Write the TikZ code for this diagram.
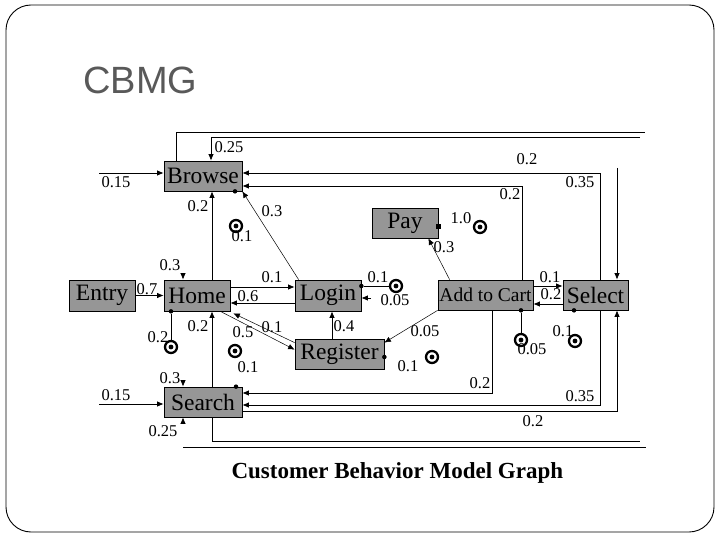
\documentclass[tikz,border=0pt]{standalone}
\usepackage{fontspec}
\setmainfont{Liberation Serif}
\newfontfamily\titlefont{Liberation Sans}
\usetikzlibrary{arrows.meta}
\definecolor{boxgray}{RGB}{150,150,150}
\definecolor{titlegray}{RGB}{89,89,89}
\tikzset{
  cbmgbox/.style={draw, fill=boxgray, line width=0.7pt, inner sep=0pt, minimum height=30pt, font=\fontsize{23.5}{25}\selectfont},
  prob/.style={inner sep=0pt, font=\fontsize{16.5}{18}\selectfont},
  arr/.style={-{Latex[length=6.5pt,width=5.5pt]}},
  link/.style={line width=0.8pt},
  diag/.style={line width=0.5pt},
  dot/.style={circle, fill, inner sep=0pt, minimum size=4.5pt},
  sqdot/.style={rectangle, fill, inner sep=0pt, minimum size=5pt},
  exitmark/.style={circle, draw, line width=2.3pt, inner sep=0pt, minimum size=12pt,
    path picture={\fill (path picture bounding box.center) circle (2.4pt);}},
}
\begin{document}
\begin{tikzpicture}[x=1pt,y=-1pt]
\useasboundingbox (0,0) rectangle (720,540);
\draw[line width=0.9pt, rounded corners=25pt] (6,5) rectangle (714,532);
\node[anchor=base west, text=titlegray, font=\titlefont\fontsize{38}{40}\selectfont] (title) at (80,94) {CBMG};

% states
\node[cbmgbox, minimum width=78pt] (browse) at (203,176) {Browse};
\node[cbmgbox, minimum width=66pt] (pay) at (405,223) {Pay};
\node[cbmgbox, minimum width=66pt, minimum height=31pt] (entry) at (102,295.5) {Entry};
\node[cbmgbox, minimum width=66pt, minimum height=31pt] (home) at (197,295.5) {Home};
\node[cbmgbox, minimum width=66pt, minimum height=31pt] (login) at (328,295.5) {Login};
\node[cbmgbox, minimum width=89pt] (register) at (339.5,354) {Register};
\node[cbmgbox, minimum width=95pt, font=\fontsize{19.5}{21}\selectfont] (addcart) at (485.5,295) {Add to Cart};
\node[cbmgbox, minimum width=65pt] (select) at (595.5,295) {Select};
\node[cbmgbox, minimum width=78pt] (search) at (203,402) {Search};

% exits
\node[exitmark] (bexit) at (236,226) {};
\node[exitmark] (pexit) at (480,227) {};
\node[exitmark] (hexit) at (171,347) {};
\node[exitmark] (sexit) at (235,351) {};
\node[exitmark] (lexit) at (396,286) {};
\node[exitmark] (rexit) at (432,357) {};
\node[exitmark] (aexit) at (521,340) {};
\node[exitmark] (slexit) at (575,341) {};
\node[dot] (bdot) at (browse.south -| 235,0) {};
\node[sqdot] (pdot) at (pay.east |- 0,227) {};
\node[dot] (hdot) at (home.south -| 171,0) {};
\node[dot] (sdot) at (search.north -| 236,0) {};
\node[dot] (ldot) at (login.east |- 0,286) {};
\node[dot] (rdot) at (register.east |- 0,357) {};
\node[dot] (adot) at (addcart.south -| 521,0) {};
\node[dot] (sldot) at (select.south -| 574,0) {};

% free ends
\coordinate (top1) at (645,132);
\coordinate (top2) at (640,137);
\coordinate (bin) at (99,173);
\coordinate (selin) at (617,168);
\coordinate (hin) at (183,273);
\coordinate (sin) at (183,380);
\coordinate (sbin) at (183,424);
\coordinate (lin) at (371,298);
\coordinate (srin) at (99,404);
\coordinate (bot1) at (640,441);
\coordinate (bot2a) at (183,447);
\coordinate (bot2b) at (646,447);

\draw[link] (browse.north -| 176,0) |- (top1);
\draw[link,arr] (top2) -| (browse.north -| 211,0);
\draw[link,arr] (bin) -- (browse.west |- bin);
\draw[link,arr] (select.north -| 600,0) |- (browse.east |- 0,173);
\draw[link,arr] (addcart.north -| 522,0) |- (browse.east |- 0,186);
\draw[link,arr] (selin) -- (select.north -| selin);
\draw[link,arr] (home.north -| 212,0) -- (browse.south -| 212,0);
\draw[diag,arr] ([xshift=4pt]login.north west) -- (browse.south east);
\draw[link,arr] (entry.east) -- (home.west);
\draw[link,arr] (hin) -- (home.north -| hin);
\draw[link,arr] (home.east |- 0,287) -- (login.west |- 0,287);
\draw[link,arr] (login.west |- 0,303) -- (home.east |- 0,303);
\draw[diag,arr] ([xshift=-10pt]home.south east) -- ([yshift=-11pt]register.north west);
\draw[diag,arr] ([yshift=-4pt]register.north west) -- ([xshift=3pt,yshift=-2pt]home.south east);
\draw[link] (hdot) -- (hexit);
\draw[link,arr] (search.north -| 212,0) -- (home.south -| 212,0);
\draw[link,arr] (register.north -| 332,0) -- (login.south -| 332,0);
\draw[link] (ldot) -- (lexit);
\draw[link,arr] (lin) -- (login.east |- lin);
\draw[diag,arr] (addcart.south west) -- ([yshift=-4pt]register.north east);
\draw[diag,arr] ([xshift=12pt]addcart.north west) -- ([xshift=-10pt]pay.south east);
\draw[link,arr] (addcart.east |- 0,286) -- (select.west |- 0,286);
\draw[link,arr] (select.west |- 0,304) -- (addcart.east |- 0,304);
\draw[link] (adot) -- (aexit);
\draw[link,arr] (addcart.south -| 492,0) |- (search.east |- 0,393);
\draw[link,arr] (select.south -| 600,0) |- (search.east |- 0,405);
\draw[link,arr] (search.east |- 0,411) -| (select.south -| 617,0);
\draw[link,arr] (srin) -- (search.west |- srin);
\draw[link,arr] (sin) -- (search.north -| sin);
\draw[link,arr] (sbin) -- (search.south -| sbin);
\draw[link] (search.south -| 212,0) |- (bot1);
\draw[link] (bot2a) -- (bot2b);

% probabilities
\foreach \x/\y/\t [count=\i] in {229/147/0.25, 116/182/0.15, 198/206/0.2, 272/211/0.3,
    242/236/0.1, 527/159/0.2, 580/182/0.35, 510/194/0.2, 461/218/1.0, 444/247/0.3,
    170/265/0.3, 147/289/0.7, 272/277/0.1, 248/296/0.6, 158/337/0.2, 198/326/0.2,
    243/332/0.5, 272/327/0.1, 248/367/0.1, 344/326/0.4, 378/277/0.1, 395/300/0.05,
    425/331/0.05, 408/366/0.1, 550/277/0.1, 551/294/0.2, 532/349/0.05, 563/331/0.1,
    480/383/0.2, 580/396/0.35, 533/421/0.2, 170/378/0.3, 116/395/0.15, 163/431/0.25}
  \node[prob] (p\i) at (\x,\y) {\t};

\node[anchor=base west, font=\bfseries\fontsize{23}{25}\selectfont] (caption) at (228,478) {Customer Behavior Model Graph};
\end{tikzpicture}
\end{document}
